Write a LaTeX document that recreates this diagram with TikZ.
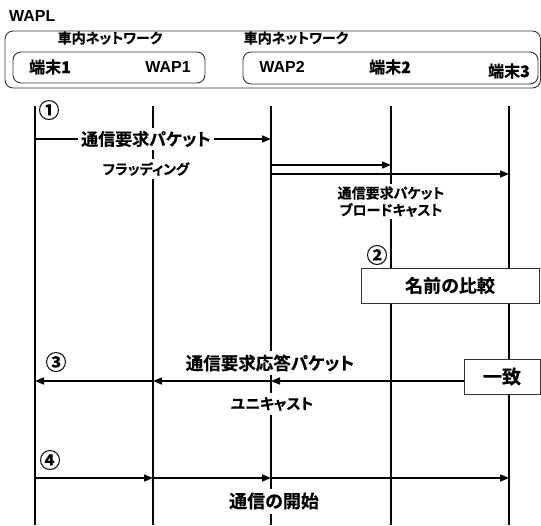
\documentclass[tikz,border=0pt]{standalone}
\usepackage{fontspec}
\setmainfont{Liberation Sans}
\newfontfamily\jpf{Noto Sans CJK JP Bold}[RawFeature=+palt, FakeBold=0.4]
\usetikzlibrary{arrows.meta}
\newcommand\fsz[1]{\fontsize{#1}{#1}\selectfont}
\begin{document}
\begin{tikzpicture}[x=1pt,y=-1pt,
  life/.style={line width=1.6pt},
  msg/.style={line width=1.6pt,-{Triangle[length=9pt,width=7pt]}},
  frame/.style={draw=black!80,line width=0.9pt,rounded corners=8pt},
  lbl/.style={fill=white,inner sep=3pt,font=\jpf\fsz{17}},
  slbl/.style={fill=white,inner sep=2pt,font=\jpf\fsz{14}},
  hdr/.style={inner sep=0pt,font=\jpf\fsz{16}},
  lat/.style={inner sep=0pt,font=\bfseries\fsz{16}},
  num/.style={inner sep=0pt,font=\jpf\fsz{21}},
  cbox/.style={draw=black!80,line width=0.9pt,fill=white,inner sep=0pt,font=\jpf\fsz{18}}]
\useasboundingbox (0,0) rectangle (541,525);
% header
\node[lat,anchor=west] (wapl) at (9,16) {WAPL};
\draw[frame] (5,31) rectangle (540.5,88);
\draw[frame] (13,52) rectangle (205,83);
\draw[frame] (243,52) rectangle (538,84);
\node[hdr,font=\jpf\fsz{14}] (net1) at (110,38) {車内ネットワーク};
\node[hdr,font=\jpf\fsz{14}] (net2) at (296,38) {車内ネットワーク};
\node[hdr] (h1) at (50,67) {端末\textbf{1}};
\node[lat] (h2) at (168,67) {WAP1};
\node[lat] (h3) at (282,67) {WAP2};
\node[hdr] (h4) at (390,67) {端末\textbf{2}};
\node[hdr] (h5) at (509,71) {端末\textbf{3}};
% lifelines
\foreach \i/\x in {1/35,2/153,3/271,4/391,5/509}{
  \coordinate (t\i) at (\x,106);
  \coordinate (b\i) at (\x,525);
  \draw[life] (t\i) -- (b\i);
}
% row 1
\coordinate (r1a) at (35,139); \coordinate (r1c) at (271,139);
\draw[msg] (r1a) -- (r1c);
\node[lbl] (l1a) at (146,139) {通信要求パケット};
\node[lbl,font=\jpf\fsz{14}] (l1b) at (146,169) {フラッディング};
\node[num] (n1) at (49,110) {①};
% row 2
\coordinate (r2a) at (271,165); \coordinate (r2b) at (391,165);
\coordinate (r2c) at (271,174); \coordinate (r2d) at (509,174);
\draw[msg] (r2a) -- (r2b);
\draw[msg] (r2c) -- (r2d);
\node[slbl] (l2a) at (391,193) {通信要求パケット};
\node[slbl] (l2b) at (391,210) {ブロードキャスト};
% step 2
\node[num] (n2) at (377,255) {②};
\node[cbox,minimum width=178pt,minimum height=35pt] (cmp) at (450,285.5) {名前の比較};
% row 3
\node[cbox,font=\jpf\fsz{19},minimum width=76pt,minimum height=35pt] (ok) at (502,376.5) {一致};
\coordinate (r3c) at (271,381); \coordinate (r3b) at (153,381); \coordinate (r3a) at (35,381);
\draw[msg] (ok.west |- r3c) -- (r3c);
\draw[msg] (r3c) -- (r3b);
\draw[msg] (r3b) -- (r3a);
\node[lbl,font=\jpf\fsz{17.5},inner sep=4pt] (l3a) at (270,363) {通信要求応答パケット};
\node[lbl,font=\jpf\fsz{15},inner sep=4pt] (l3b) at (272,404) {ユニキャスト};
\node[num] (n3) at (56,362) {③};
% row 4
\coordinate (r4a) at (35,478); \coordinate (r4b) at (153,478);
\coordinate (r4c) at (271,478); \coordinate (r4d) at (509,478);
\draw[msg] (r4a) -- (r4b);
\draw[msg] (r4b) -- (r4c);
\draw[msg] (r4c) -- (r4d);
\node[num] (n4) at (50,460) {④};
\node[lbl,font=\jpf\fsz{18},inner sep=4pt] (l4) at (274,501) {通信の開始};
\end{tikzpicture}
\end{document}
